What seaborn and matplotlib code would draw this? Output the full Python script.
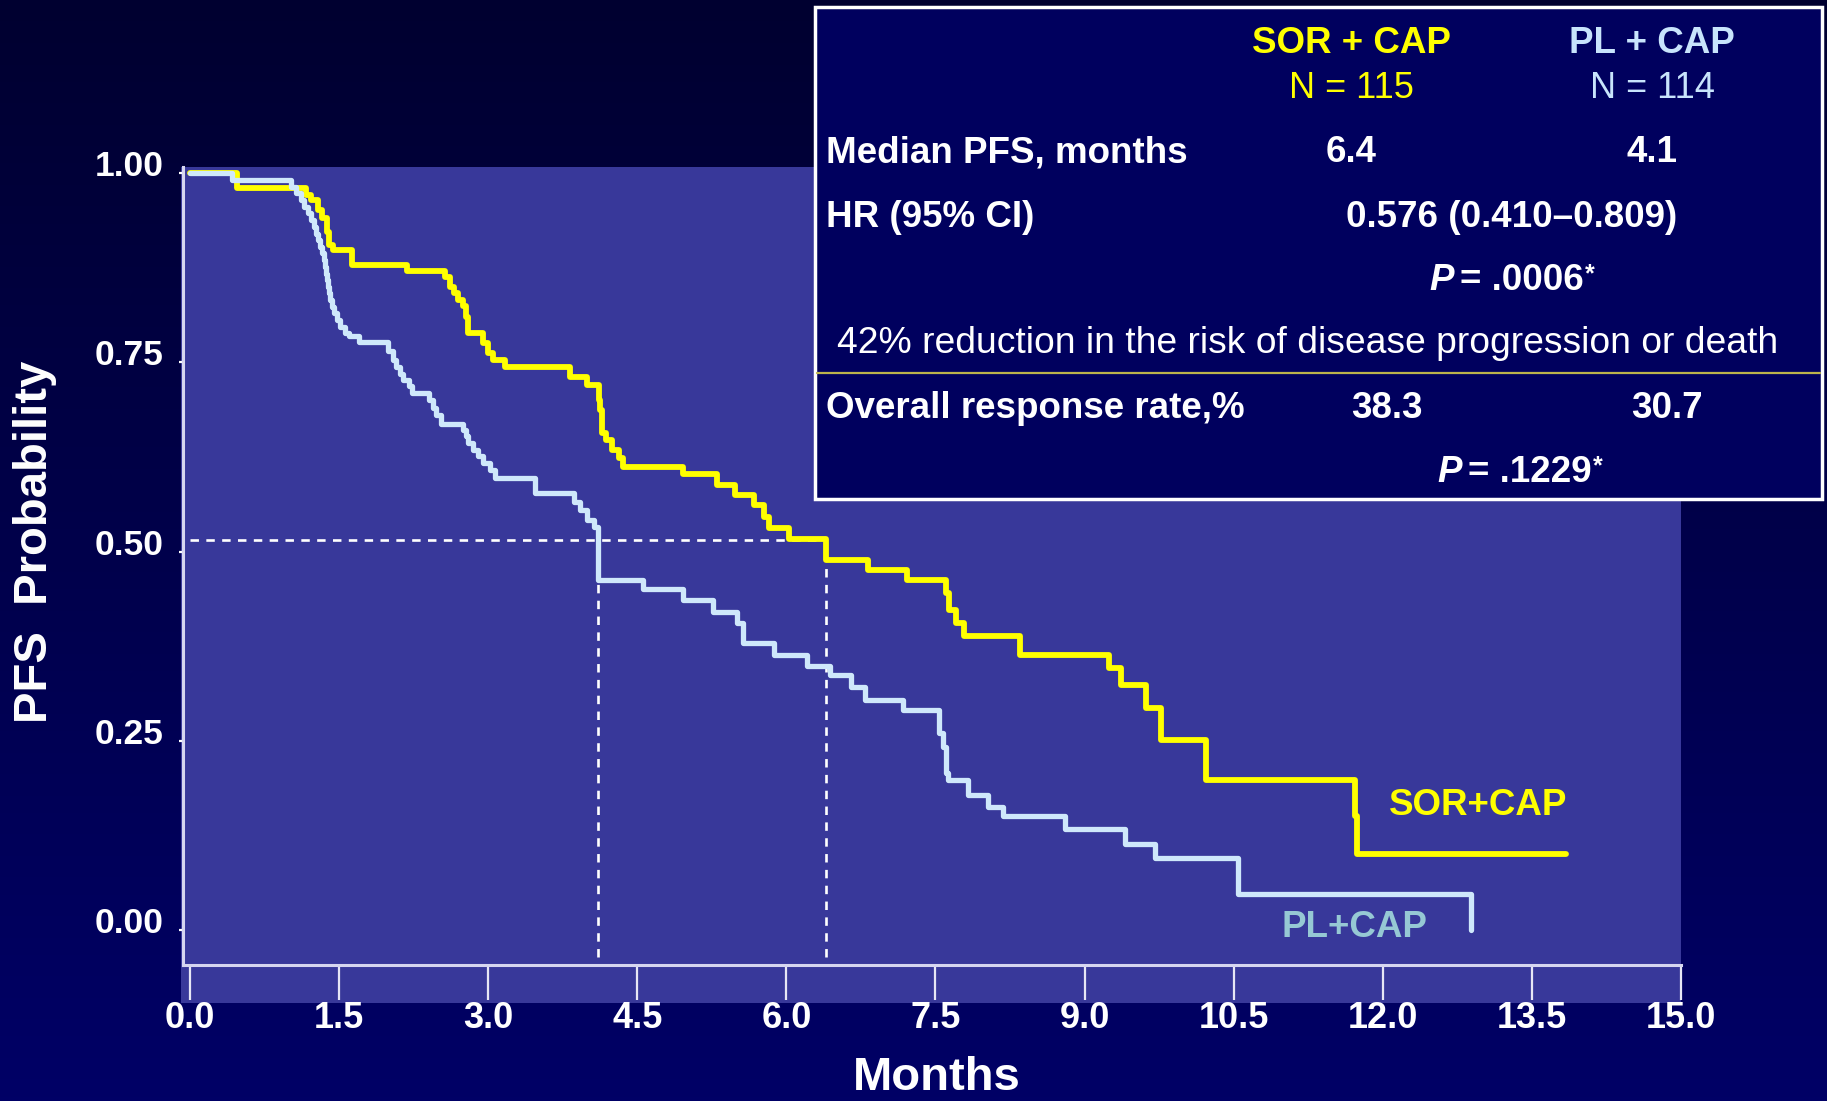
import numpy as np
import pandas as pd
import seaborn as sns
import matplotlib
matplotlib.use("Agg")
import matplotlib.pyplot as plt
from matplotlib.colors import LinearSegmentedColormap
from matplotlib.patches import Rectangle
from matplotlib.lines import Line2D
from matplotlib.transforms import ScaledTranslation, IdentityTransform

# ---- Kaplan-Meier PFS estimates: time of each step (months) and level after it
sor_months = [0.0, 0.47, 1.17, 1.22, 1.29, 1.33, 1.38, 1.40, 1.44, 1.63, 2.18,
              2.57, 2.62, 2.66, 2.70, 2.75, 2.78, 2.80, 2.95, 3.00, 3.05, 3.17,
              3.82, 3.99, 4.11, 4.13, 4.15, 4.19, 4.25, 4.32, 4.36, 4.96, 5.30,
              5.48, 5.67, 5.77, 5.83, 6.03, 6.40, 6.82, 7.21, 7.61, 7.64, 7.71,
              7.79, 8.35, 9.25, 9.37, 9.62, 9.77, 10.22, 11.72, 11.74, 13.84]
sor_pfs = [1.000, 0.980, 0.971, 0.964, 0.951, 0.940, 0.922, 0.905, 0.898, 0.878, 0.870,
           0.863, 0.850, 0.841, 0.832, 0.824, 0.810, 0.788, 0.775, 0.762, 0.753, 0.744,
           0.731, 0.720, 0.700, 0.687, 0.656, 0.647, 0.634, 0.623, 0.612, 0.603, 0.588,
           0.574, 0.561, 0.546, 0.531, 0.517, 0.489, 0.476, 0.462, 0.445, 0.423, 0.405,
           0.388, 0.363, 0.346, 0.324, 0.293, 0.251, 0.198, 0.150, 0.101, 0.101]

pl_months = [0.0, 0.42, 1.02, 1.07, 1.12, 1.15, 1.19, 1.22, 1.25, 1.27, 1.29,
             1.31, 1.33, 1.35, 1.36, 1.37, 1.38, 1.39, 1.40, 1.41, 1.43, 1.45,
             1.48, 1.51, 1.56, 1.60, 1.70, 1.99, 2.04, 2.07, 2.11, 2.14, 2.20,
             2.23, 2.40, 2.45, 2.48, 2.53, 2.75, 2.78, 2.80, 2.85, 2.90, 2.95,
             3.02, 3.07, 3.47, 3.86, 3.92, 3.99, 4.06, 4.10, 4.56, 4.96, 5.26,
             5.50, 5.56, 5.88, 6.21, 6.44, 6.65, 6.79, 7.17, 7.54, 7.58, 7.61,
             7.63, 7.83, 8.03, 8.18, 8.80, 9.41, 9.71, 10.54, 12.89]
pl_pfs = [1.000, 0.991, 0.982, 0.973, 0.964, 0.955, 0.947, 0.938, 0.929, 0.920, 0.911,
          0.902, 0.894, 0.885, 0.876, 0.867, 0.858, 0.850, 0.841, 0.832, 0.823, 0.815,
          0.806, 0.797, 0.789, 0.785, 0.777, 0.765, 0.753, 0.744, 0.735, 0.727, 0.718,
          0.709, 0.700, 0.690, 0.680, 0.669, 0.660, 0.652, 0.643, 0.634, 0.626, 0.617,
          0.608, 0.597, 0.577, 0.566, 0.555, 0.541, 0.533, 0.462, 0.451, 0.436, 0.420,
          0.405, 0.379, 0.363, 0.349, 0.337, 0.321, 0.304, 0.291, 0.260, 0.242, 0.207,
          0.198, 0.179, 0.163, 0.150, 0.134, 0.114, 0.095, 0.048, 0.000]

arm_names = ["SOR+CAP", "PL+CAP"]
median_months = [6.4, 4.1]          # median PFS per arm
median_level = 0.515                # reference line level

x_ticks = [0.0, 1.5, 3.0, 4.5, 6.0, 7.5, 9.0, 10.5, 12.0, 13.5, 15.0]
y_ticks = [0.00, 0.25, 0.50, 0.75, 1.00]

# summary table content
table_arms = ["SOR + CAP", "PL + CAP"]
table_n = ["N = 115", "N = 114"]
median_pfs_text = ["6.4", "4.1"]
orr_text = ["38.3", "30.7"]
hr_text = "0.576 (0.410\u20130.809)"
p_pfs = ".0006"
p_orr = ".1229"
reduction_text = "42% reduction in the risk of disease progression or death"

# ---- style
YELLOW = "#ffff00"
LIGHT_BLUE = "#cfe8fb"
LABEL_TEAL = "#96c8d4"
PANEL = "#38389a"
TABLE_FILL = "#00005e"

sns.set_theme(style="white")
plt.rcParams["font.family"] = ["Liberation Sans", "DejaVu Sans"]

W, H = 1827, 1101
fig = plt.figure(figsize=(W / 100, H / 100), dpi=100)


def fx(x):
    return x / W


def fy(y):
    return 1 - y / H


# navy gradient backdrop
bg = fig.add_axes([0, 0, 1, 1])
bg.set_zorder(-10)
grad = np.linspace(0, 1, 256).reshape(-1, 1)
cmap = LinearSegmentedColormap.from_list("navy", ["#000030", "#000066"])
bg.imshow(grad, aspect="auto", cmap=cmap, extent=[0, 1, 0, 1], origin="upper")
bg.axis("off")

# plot panel
fig.add_artist(Rectangle((fx(181), fy(1003)), fx(1681) - fx(181), fy(167) - fy(1003),
                         transform=fig.transFigure, facecolor=PANEL,
                         edgecolor="none", zorder=-5))

ax = fig.add_axes([fx(183), fy(965), fx(1681) - fx(183), fy(167) - fy(965)])
ax.set_zorder(2)
ax.patch.set_visible(False)

df = pd.concat([
    pd.DataFrame({"Months": sor_months, "PFS": sor_pfs, "Arm": arm_names[0]}),
    pd.DataFrame({"Months": pl_months, "PFS": pl_pfs, "Arm": arm_names[1]}),
], ignore_index=True)

ybot = -0.0462
ax.set_xlim(-0.07, 15.0)
ax.set_ylim(ybot, 1.0079)

# median reference lines
dash = (0, (3.2, 2.8))
ax.hlines(median_level, 0, median_months[0], colors="white", linestyles=[dash],
          lw=1.9, zorder=2)
ax.vlines(median_months, -0.036, median_level, colors="white", linestyles=[dash],
          lw=1.9, zorder=2)

sns.lineplot(data=df[df["Arm"] == arm_names[0]], x="Months", y="PFS", ax=ax,
             color=YELLOW, lw=4.2, drawstyle="steps-post", estimator=None,
             sort=False, legend=False, zorder=3)
sns.lineplot(data=df[df["Arm"] == arm_names[1]], x="Months", y="PFS", ax=ax,
             color=LIGHT_BLUE, lw=3.8, drawstyle="steps-post", estimator=None,
             sort=False, legend=False, zorder=4)

# curve labels
ax.text(12.96, 0.152, arm_names[0], color=YELLOW, fontsize=26.5,
        fontweight="bold", ha="center", va="baseline", zorder=5)
ax.text(11.71, -0.009, arm_names[1], color=LABEL_TEAL, fontsize=26.5,
        fontweight="bold", ha="center", va="baseline", zorder=5)

# axes decoration
for side in ["top", "right"]:
    ax.spines[side].set_visible(False)
for side in ["left", "bottom"]:
    ax.spines[side].set_color("#d6d6f0")
    ax.spines[side].set_linewidth(2.2)

ax.set_xticks(x_ticks)
ax.set_xticklabels([f"{v:.1f}" for v in x_ticks])
ax.set_yticks(y_ticks)
ax.set_yticklabels([f"{v:.2f}" for v in y_ticks])
ax.tick_params(axis="x", bottom=True, direction="out", length=25, width=1.6,
               color="#e6e6f5", pad=1.0, labelsize=26, labelcolor="white")
ax.tick_params(axis="y", left=True, direction="out", length=3, width=1.6,
               color="white", pad=11, labelsize=25.5, labelcolor="white")
for lbl in ax.get_xticklabels() + ax.get_yticklabels():
    lbl.set_fontweight("bold")
lift = ScaledTranslation(0, 10 / 100, fig.dpi_scale_trans)
for lbl in ax.get_yticklabels():
    lbl.set_transform(lbl.get_transform() + lift)

ax.set_xlabel("Months", fontsize=34, fontweight="bold", color="white")
ax.xaxis.set_label_coords((937 - 183) / 1498, (965 - 1078) / 798)
ax.xaxis.label.set_va("center")
ax.set_ylabel("PFS  Probability", fontsize=34, fontweight="bold", color="white")
ax.yaxis.set_label_coords((35 - 183) / 1498, (965 - 542) / 798)
ax.yaxis.label.set_va("center")
ax.yaxis.label.set_ha("center")

# ---- summary table
fig.add_artist(Rectangle((fx(815), fy(499)), fx(1822) - fx(815), fy(7) - fy(499),
                         transform=fig.transFigure, facecolor=TABLE_FILL,
                         edgecolor="white", lw=2.5, zorder=5))
fig.add_artist(Line2D([fx(817), fx(1820)], [fy(373), fy(373)],
                      transform=fig.transFigure, color="#bcb44c", lw=1.6, zorder=6))


def ftext(x, y, s, **kw):
    return fig.text(fx(x), fy(y), s, va="baseline", zorder=7, **kw)


BOLD = dict(fontsize=26.5, fontweight="bold")
REG = dict(fontsize=26)
col_x = [1351, 1652]
arm_cols = [YELLOW, "#c8e4fc"]
for i in range(2):
    ftext(col_x[i], 53, table_arms[i], color=arm_cols[i], ha="center", **BOLD)
    ftext(col_x[i], 98, table_n[i], color=arm_cols[i], ha="center", **REG)
    ftext(col_x[i], 162, median_pfs_text[i], color="white", ha="center", **BOLD)

ftext(826, 162, "Median PFS, months", color="white", ha="left", **BOLD)
ftext(826, 227, "HR (95% CI)", color="white", ha="left", **BOLD)
ftext(1512, 227, hr_text, color="white", ha="center", **BOLD)
ftext(1308, 353, reduction_text, color="white", ha="center", fontsize=26.8)
ftext(826, 418, "Overall response rate,%", color="white", ha="left", **BOLD)
ftext(1387, 418, orr_text[0], color="white", ha="center", **BOLD)
ftext(1667, 418, orr_text[1], color="white", ha="center", **BOLD)

renderer = fig.canvas.get_renderer()


def p_value(xc, baseline, value):
    parts = [("P", dict(fontsize=26.5, fontweight="bold", fontstyle="italic"), 0, 6),
             ("= " + value, dict(fontsize=26.5, fontweight="bold"), 0, 1),
             ("*", dict(fontsize=18, fontweight="bold"), 9, 0)]
    objs = []
    for s, kw, rise, gap in parts:
        t = fig.text(0, 0, s, transform=IdentityTransform(), color="white",
                     ha="left", va="baseline", zorder=7, **kw)
        objs.append((t, rise, gap))
    widths = [t.get_window_extent(renderer).width for t, _, _ in objs]
    total = sum(widths) + sum(g for _, _, g in objs)
    x = xc - total / 2
    for (t, rise, gap), w in zip(objs, widths):
        t.set_position((x, H - baseline + rise))
        x += w + gap


p_value(1512, 290, p_pfs)
p_value(1520, 482, p_orr)

fig.savefig("out.png", dpi=100)
